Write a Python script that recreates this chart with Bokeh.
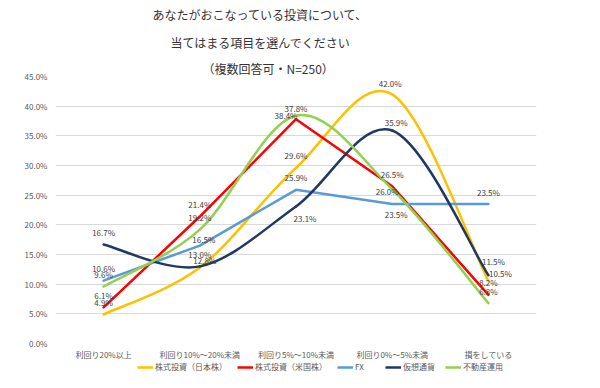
from bokeh.plotting import figure
from bokeh.layouts import column
from bokeh.models import (ColumnDataSource, Range1d, FixedTicker, PrintfTickFormatter,
                          Legend, LegendItem, Title)
from bokeh.core.properties import value
from bokeh.embed import file_html
from bokeh.resources import INLINE

# ---------------- data ----------------
title_lines = ["あなたがおこなっている投資について、",
               "当てはまる項目を選んでください",
               "（複数回答可・N=250）"]
categories = ["利回り20%以上", "利回り10%～20%未満", "利回り5%～10%未満",
              "利回り0%～5%未満", "損をしている"]
series_names = ["株式投資（日本株）", "株式投資（米国株）", "FX", "仮想通貨", "不動産運用"]
jp_stock = [4.9, 12.8, 29.6, 42.0, 10.5]
us_stock = [6.1, 21.4, 37.8, 26.5, 8.2]
fx = [10.6, 16.5, 25.9, 23.5, 23.5]
crypto = [16.7, 13.0, 23.1, 35.9, 11.5]
real_estate = [9.6, 19.2, 38.4, 26.0, 6.8]
y_ticks = [0, 5, 10, 15, 20, 25, 30, 35, 40, 45]

series_values = [jp_stock, us_stock, fx, crypto, real_estate]

# ---------------- styles ----------------
colors = ["#FFC000", "#FF0000", "#5B9BD5", "#203864", "#92D050"]
smooth = [True, False, False, True, True]
FONT = "Noto Sans CJK JP"
# label offsets in pixels (dx, dy; dy positive = down), default above the point
label_offsets = {
    (2, 1): (4, -6), (0, 1): (5, -7),
    (4, 2): (-10, 0), (1, 2): (0, -11), (3, 2): (9, 12),
    (3, 3): (4, -8), (4, 3): (-5, 2), (2, 3): (4, 10), (0, 3): (-2, -11),
    (3, 4): (5, -14), (0, 4): (12, -8),
}
title_offsets = [97, 115, 147]
title_standoffs = [6, 13, 0]

xs = list(range(len(categories)))

p = figure(width=584, height=362, output_backend="svg", toolbar_location=None,
           x_range=Range1d(-0.5, len(categories) - 0.5), y_range=Range1d(0, 45),
           min_border_left=55, min_border_right=48, min_border_top=70,
           min_border_bottom=16)
p.outline_line_color = None
p.background_fill_color = "white"
p.border_fill_color = "white"

# titles (added bottom line first so that it sits closest to the plot)
for line, off, so in reversed(list(zip(title_lines, title_offsets, title_standoffs))):
    p.add_layout(Title(text=line, align="left", offset=off, standoff=so,
                       text_font=FONT, text_font_size="12px",
                       text_font_style="normal", text_color="#333333"), "above")

# axes
p.xaxis.ticker = FixedTicker(ticks=xs)
p.xaxis.major_label_overrides = {i: c for i, c in enumerate(categories)}
p.xaxis.axis_line_color = None
p.xaxis.major_tick_line_color = None
p.xaxis.minor_tick_line_color = None
p.xaxis.major_tick_out = 0
p.xaxis.major_label_standoff = 5
p.xaxis.major_label_text_font = FONT
p.xaxis.major_label_text_font_size = "8px"
p.xaxis.major_label_text_color = "#595959"

p.yaxis.ticker = FixedTicker(ticks=y_ticks)
p.yaxis.formatter = PrintfTickFormatter(format="%.1f%%")
p.yaxis.axis_line_color = None
p.yaxis.major_tick_line_color = None
p.yaxis.minor_tick_line_color = None
p.yaxis.major_tick_out = 0
p.yaxis.major_label_standoff = 8
p.yaxis.major_label_text_font = FONT
p.yaxis.major_label_text_font_size = "8px"
p.yaxis.major_label_text_color = "#595959"

p.xgrid.grid_line_color = None
p.ygrid.ticker = FixedTicker(ticks=y_ticks)
p.ygrid.grid_line_color = "#D9D9D9"
p.ygrid.grid_line_width = 1

# lines
for k, vals in enumerate(series_values):
    if smooth[k]:
        n = len(vals)
        x0, y0, x1, y1, cx0, cy0, cx1, cy1 = [], [], [], [], [], [], [], []
        for i in range(n - 1):
            ip, inn = max(i - 1, 0), min(i + 2, n - 1)
            x0.append(xs[i]); y0.append(vals[i])
            x1.append(xs[i + 1]); y1.append(vals[i + 1])
            cx0.append(xs[i] + (xs[i + 1] - xs[ip]) / 6.0)
            cy0.append(vals[i] + (vals[i + 1] - vals[ip]) / 6.0)
            cx1.append(xs[i + 1] - (xs[inn] - xs[i]) / 6.0)
            cy1.append(vals[i + 1] - (vals[inn] - vals[i]) / 6.0)
        p.bezier(x0=x0, y0=y0, x1=x1, y1=y1, cx0=cx0, cy0=cy0, cx1=cx1, cy1=cy1,
                 line_color=colors[k], line_width=2.5, line_cap="round")
    else:
        p.line(xs, vals, line_color=colors[k], line_width=2.5, line_join="round",
               line_cap="round")

# data labels
lx, ly, lt, lxo, lyo = [], [], [], [], []
for k, vals in enumerate(series_values):
    for i, v in enumerate(vals):
        dx, dy = label_offsets.get((k, i), (0, -12))
        lx.append(xs[i]); ly.append(v); lt.append(f"{v:.1f}%")
        lxo.append(dx); lyo.append(dy)
src = ColumnDataSource(dict(x=lx, y=ly, t=lt, xo=lxo, yo=lyo))
p.text(x="x", y="y", text="t", x_offset="xo", y_offset="yo", source=src,
       text_font=value(FONT), text_font_size="8px", text_color="#404040",
       text_align="center", text_baseline="middle")

# ---------------- legend strip ----------------
# (series drawn here outside the visible y range only to feed the legend glyphs)
pl = figure(width=584, height=10, output_backend="svg", toolbar_location=None,
            x_range=Range1d(-0.5, len(categories) - 0.5), y_range=Range1d(100, 101),
            x_axis_type=None, y_axis_type=None, min_border=0)
pl.outline_line_color = None
pl.grid.visible = False
pl.border_fill_color = "white"
pl.background_fill_color = "white"
leg_renderers = [pl.line(xs, vals, line_color=c, line_width=2.5)
                 for vals, c in zip(series_values, colors)]
legend = Legend(items=[LegendItem(label=n, renderers=[r])
                       for n, r in zip(series_names, leg_renderers)],
                orientation="horizontal", location=(82, 0),
                glyph_width=16, glyph_height=10, label_height=10, label_standoff=2,
                spacing=10, padding=0, margin=0,
                label_text_font=FONT, label_text_font_size="8px",
                label_text_color="#595959",
                border_line_color=None, background_fill_alpha=0)
pl.add_layout(legend)

layout = column(p, pl, spacing=0)
open("out.html", "w").write(file_html(layout, INLINE))
